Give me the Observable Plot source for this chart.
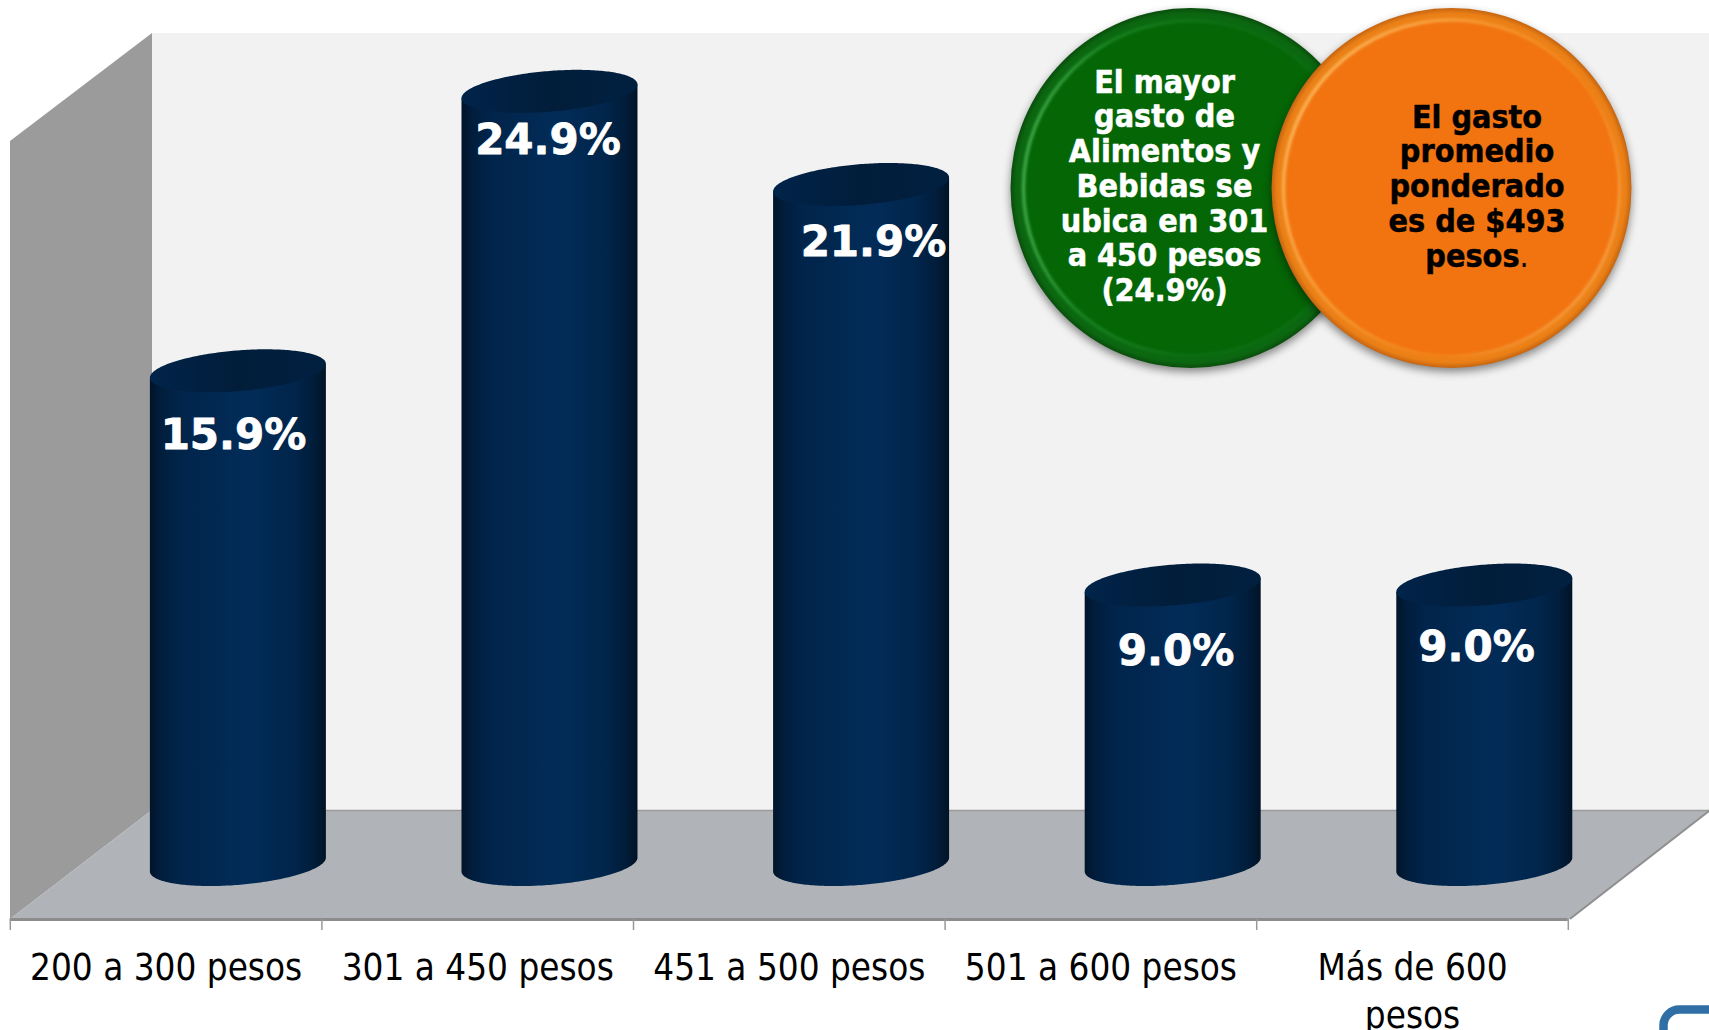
<!DOCTYPE html>
<html lang="es">
<head>
<meta charset="utf-8">
<title>Gasto en alimentos y bebidas</title>
<script src="https://cdn.jsdelivr.net/npm/d3@7"></script>
<script src="https://cdn.jsdelivr.net/npm/@observablehq/plot@0.6"></script>
<style>
html,body{margin:0;padding:0;background:#fff;overflow:hidden}
</style>
</head>
<body>
<div id="chart"></div>
<script>
// ---- Data ----
const categories = ["200 a 300 pesos", "301 a 450 pesos", "451 a 500 pesos", "501 a 600 pesos", "Más de 600\npesos"];
const shares = [15.9, 24.9, 21.9, 9.0, 9.0];
const shareLabels = ["15.9%", "24.9%", "21.9%", "9.0%", "9.0%"];
const greenNote = ["El mayor", "gasto de", "Alimentos y", "Bebidas se", "ubica en 301", "a 450 pesos", "(24.9%)"];
const orangeNote = ["El gasto", "promedio", "ponderado", "es de $493", "pesos."];

// ---- Layout (in scale units unless stated) ----
const pxPerCategory = 311.6, pxPerPoint = 31.05, originX = 9.8, originY = 864.5;
const X = px => (px - originX) / pxPerCategory;
const V = py => (originY - py) / pxPerPoint;
const cylOffset = 0.732;                 // cylinder centre inside its category, pushed back into depth
const cylRx = 88 / pxPerCategory;
const cylRy = 20.4 / pxPerPoint;
const cylTilt = 0.078 * pxPerCategory / pxPerPoint;
const labelDx = [-4.9, -2, 11.9, 2.8, -8.3];   // px
const labelDy = [77.2, 62.6, 70.5, 79, 75.5];  // px, baseline below the cylinder top
const labelSize = 42, noteSize = 32, categorySize = 36.5;

const rows = categories.map((category, i) => ({category, i, share: shares[i], label: shareLabels[i]}));
const steps = d3.range(0, 121).map(k => k / 120 * Math.PI);

// Cylinder outlines
const bodies = rows.flatMap(r => steps.map(a => {
  const c = r.i + cylOffset, u = Math.cos(a);
  return {
    id: r.i,
    x: c + cylRx * u,
    y1: r.share + cylTilt * cylRx * u,
    y2: 0 + cylTilt * cylRx * u - cylRy * Math.sin(a)
  };
}));
const caps = rows.flatMap(r => steps.map(a => {
  const c = r.i + cylOffset, u = Math.cos(a), s = Math.sin(a);
  return {
    id: r.i,
    x: c + cylRx * u,
    y1: r.share + cylTilt * cylRx * u - cylRy * s,
    y2: r.share + cylTilt * cylRx * u + cylRy * s
  };
}));

// Chart box
const leftWall = [
  {x: X(10), y1: V(919), y2: V(141)},
  {x: X(152), y1: V(810), y2: V(33)}
];
const backWall = [
  {x: X(152), y1: V(810), y2: V(33)},
  {x: X(1709), y1: V(810), y2: V(33)}
];
const floorShape = [
  {y: V(919), x1: X(10), x2: X(1570)},
  {y: V(810), x1: X(152), x2: X(1709)}
];
const tickPositions = d3.range(0, 6);

const noteLines = (lines, px, firstBaseline) =>
  lines.map((text, k) => ({text, x: X(px), y: V(firstBaseline + k * 34.75 - 0.32 * noteSize)}));
const condensed = "'DejaVu Sans Condensed', 'DejaVu Sans', sans-serif";

const chart = Plot.plot({
  width: 1709,
  height: 1030,
  margin: 0,
  style: {background: "#ffffff", overflow: "hidden"},
  x: {type: "linear", domain: [0, 5], range: [originX, originX + 5 * pxPerCategory], axis: null},
  y: {type: "linear", domain: [0, 25], range: [originY, originY - 25 * pxPerPoint], axis: null},
  marks: [
    // walls and floor
    Plot.areaY(backWall, {x: "x", y1: "y1", y2: "y2", fill: "#f2f2f2"}),
    Plot.areaY(leftWall, {x: "x", y1: "y1", y2: "y2", fill: "#9b9b9b"}),
    Plot.areaX(floorShape, {y: "y", x1: "x1", x2: "x2", fill: "#b0b3b7"}),
    Plot.ruleY([V(810)], {x1: X(152), x2: X(1709), stroke: "#9a9a9a", strokeWidth: 1.5}),
    Plot.line([{x: X(1570), y: V(918)}, {x: X(1709), y: V(810)}], {x: "x", y: "y", stroke: "#8f8f8f", strokeWidth: 2}),
    Plot.ruleY([V(919)], {x1: 0, x2: 5, stroke: "#8c8c8c", strokeWidth: 3}),
    Plot.ruleX(tickPositions, {y1: V(919), y2: V(930), stroke: "#999999", strokeWidth: 1.5}),

    // cylinders
    Plot.areaY(bodies, {x: "x", y1: "y1", y2: "y2", z: "id", fill: "url(#cylBody)", curve: "linear"}),
    Plot.areaY(caps, {x: "x", y1: "y1", y2: "y2", z: "id", fill: "url(#cylCap)", curve: "linear"}),

    // value labels
    Plot.text(rows, {
      x: d => d.i + cylOffset,
      y: "share",
      text: "label",
      fill: "#ffffff",
      stroke: "#ffffff",
      strokeWidth: 0.8,
      fontFamily: "'DejaVu Sans', sans-serif",
      fontWeight: 700,
      fontSize: labelSize,
      render(index, scales, values, dims, ctx, next) {
        const g = next(index, scales, values, dims, ctx);
        d3.select(g).selectAll("text").each(function (_, k) {
          const i = index[k];
          this.setAttribute("transform", `translate(${values.x[i] + labelDx[i]},${values.y[i] + labelDy[i] - 0.32 * labelSize})`);
        });
        return g;
      }
    }),

    // category labels
    Plot.text(rows, {
      x: d => d.i + 0.5,
      y: V(971 - 0.71 * categorySize),
      text: "category",
      lineAnchor: "top",
      lineHeight: 1.32,
      fill: "#000000",
      fontFamily: condensed,
      fontSize: categorySize
    }),

    // note bubbles
    Plot.dot([0], {x: X(1190), y: V(187.5), r: 180, fill: "url(#greenBase)"}),
    Plot.dot([0], {x: X(1190), y: V(187.5), r: 166, fill: "#056606"}),
    Plot.dot([0], {x: X(1190), y: V(187.5), r: 167, fill: "none", stroke: "url(#greenRim)", strokeWidth: 3}),
    Plot.text(noteLines(greenNote, 1164, 92), {
      x: "x", y: "y", text: "text", fill: "#ffffff", stroke: "#ffffff", strokeWidth: 0.5,
      fontFamily: condensed, fontWeight: 700, fontSize: noteSize
    }),
    Plot.dot([0], {x: X(1451), y: V(187.5), r: 180, fill: "url(#orangeBase)"}),
    Plot.dot([0], {x: X(1451), y: V(187.5), r: 167, fill: "#f27410"}),
    Plot.dot([0], {x: X(1451), y: V(187.5), r: 168, fill: "none", stroke: "url(#orangeRim)", strokeWidth: 3}),
    Plot.text(noteLines(orangeNote, 1476.5, 127), {
      x: "x", y: "y", text: "text", fill: "#000000", stroke: "#000000", strokeWidth: 0.5,
      fontFamily: condensed, fontWeight: 700, fontSize: noteSize
    }),

    // corner of the frame cut off at the lower right
    Plot.rect([0], {x1: X(1663.5), x2: X(1800), y1: V(1009.5), y2: V(1100), fill: "#ffffff", stroke: "#2f6fa6", strokeWidth: 8.5, rx: 16})
  ]
});

d3.select(chart).insert("defs", ":first-child").html(`
  <linearGradient id="cylBody" x1="0" x2="1" y1="0" y2="0">
    <stop offset="0" stop-color="#011429"/>
    <stop offset="0.06" stop-color="#011d3c"/>
    <stop offset="0.16" stop-color="#01244a"/>
    <stop offset="0.55" stop-color="#022c58"/>
    <stop offset="0.82" stop-color="#01254b"/>
    <stop offset="0.94" stop-color="#011c38"/>
    <stop offset="1" stop-color="#011326"/>
  </linearGradient>
  <linearGradient id="cylCap" x1="0" x2="1" y1="0" y2="0">
    <stop offset="0" stop-color="#01244a"/>
    <stop offset="0.5" stop-color="#011d3a"/>
    <stop offset="1" stop-color="#012040"/>
  </linearGradient>
  <radialGradient id="greenBase">
    <stop offset="0.9" stop-color="#0c6f12"/>
    <stop offset="0.97" stop-color="#0b6610"/>
    <stop offset="1" stop-color="#0a4d0c"/>
  </radialGradient>
  <linearGradient id="greenRim" x1="0" x2="1" y1="0.45" y2="0.55">
    <stop offset="0" stop-color="#48b351"/>
    <stop offset="0.22" stop-color="#1a8421"/>
    <stop offset="0.55" stop-color="#0a6c10"/>
    <stop offset="1" stop-color="#0a6c10"/>
  </linearGradient>
  <radialGradient id="orangeBase">
    <stop offset="0.9" stop-color="#f28a1c"/>
    <stop offset="0.97" stop-color="#ea7f16"/>
    <stop offset="1" stop-color="#c56410"/>
  </radialGradient>
  <linearGradient id="orangeRim" x1="0.05" x2="0.95" y1="0.25" y2="0.75">
    <stop offset="0" stop-color="#fdb85e"/>
    <stop offset="0.3" stop-color="#f79a38"/>
    <stop offset="0.7" stop-color="#f27c14"/>
    <stop offset="1" stop-color="#f59a40"/>
  </linearGradient>
`);
chart.querySelectorAll('[fill="url(#greenBase)"],[fill="url(#orangeBase)"]').forEach(n => {
  n.style.filter = "drop-shadow(0 4px 4px rgba(0,0,0,0.45))";
});
chart.querySelectorAll('[stroke="url(#greenRim)"],[stroke="url(#orangeRim)"]').forEach(n => {
  n.style.filter = "blur(1.5px)";
});
// the closing full stop of the orange note is not bold
chart.querySelectorAll("text").forEach(t => {
  if (t.textContent === "pesos.") {
    t.textContent = "pesos";
    d3.select(t).append("tspan").attr("font-weight", 400).attr("stroke", "none").text(".");
  }
});
document.getElementById("chart").append(chart);
</script>
</body>
</html>
